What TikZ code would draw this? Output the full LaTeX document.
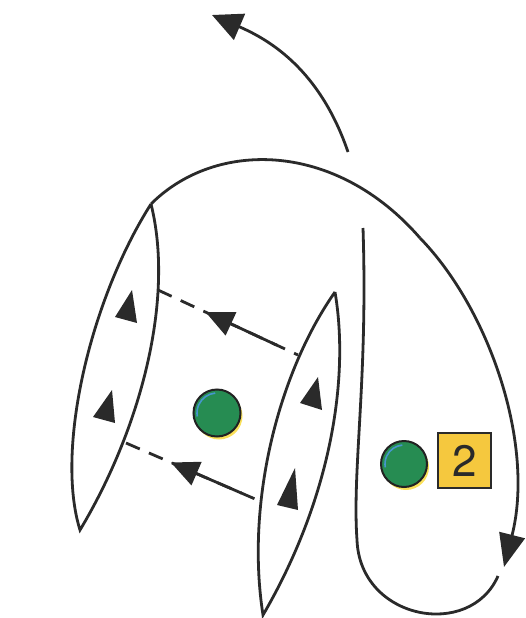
\documentclass[tikz,border=0pt]{standalone}
\usepackage{fontspec}
\newfontfamily\tagfont{TeX Gyre Heros}
\usetikzlibrary{arrows.meta, positioning, calc, shadows}
\definecolor{ink}{RGB}{42,42,42}
\definecolor{iongreen}{RGB}{38,140,82}
\definecolor{tagyellow}{RGB}{245,200,62}
\definecolor{glowyellow}{RGB}{250,224,90}
\definecolor{sheenblue}{RGB}{70,150,205}

\begin{document}
\begin{tikzpicture}[x=1pt,y=-1pt,>=Stealth,
    curve/.style={draw=ink,line width=2.8pt},
    flow/.style={curve,-{Triangle[length=30pt,width=28pt]}},
    pull/.style={curve,-{Triangle[length=28pt,width=25pt]}},
    dashline/.style={curve,dash pattern=on 15pt off 10pt},
    marker/.style={fill=ink},
    ion/.style={circle,draw=ink!80!black,line width=2pt,fill=iongreen,
      drop shadow={shadow xshift=2pt,shadow yshift=-3pt,fill=glowyellow,opacity=1}},
    sheen/.style={draw=sheenblue,line width=1.6pt},
    tagbox/.style={draw=ink,line width=2pt,fill=tagyellow,minimum width=53pt,
      minimum height=55pt,inner sep=0pt,font=\tagfont\fontsize{44}{44}\selectfont,text=ink}]
  \useasboundingbox (0,0) rectangle (526,618);

  % lens tips and attachment points
  \coordinate (ltop) at (151,204);
  \coordinate (lbot) at (80,530);
  \coordinate (rtop) at (335,292);
  \coordinate (rbot) at (263,615);
  \coordinate (la) at (158,290);
  \coordinate (lb) at (126,443);
  \coordinate (ra) at (298,355);
  \coordinate (rb) at (262,502);

  % the two lenses
  \draw[curve] (ltop) .. controls (90,300) and (55,450) .. (lbot)
    .. controls (140,430) and (175,300) .. (ltop);
  \draw[curve] (rtop) .. controls (280,370) and (245,500) .. (rbot)
    .. controls (330,500) and (350,380) .. (rtop);

  % marks on the lenses
  \fill[marker] (132,290) -- (115,317) -- (137,323) -- cycle;
  \fill[marker] (112,390) -- (93,417) -- (115,423) -- cycle;
  \fill[marker] (318,377) -- (300,403) -- (322,410) -- cycle;
  \fill[marker] (295,468) -- (277,505) -- (298,510) -- cycle;

  % big sweep and the loop
  \coordinate (sweep) at (420,238);
  \coordinate (drop) at (504,567);
  \draw[curve] (ltop) .. controls (215,140) and (335,140) .. (sweep);
  \draw[curve,-{Triangle[length=33pt,width=26pt]}] (sweep) .. controls (490,310) and (535,445) .. (drop);
  \coordinate (looptop) at (363,228);
  \coordinate (loopend) at (498,576);
  \draw[curve] (looptop) .. controls (368,380) and (352,470) .. (357,540)
    .. controls (360,620) and (470,640) .. (loopend);

  % escape arrow
  \coordinate (tail) at (348,152);
  \coordinate (head) at (212,15);
  \draw[flow] (tail) .. controls (320,70) and (270,40) .. (head);

  % dashed links
  \draw[dashline] (la) -- (ra);
  \draw[pull] ($(ra)!0.15!(la)$) -- ($(ra)!0.66!(la)$);
  \draw[dashline] (lb) -- (rb);
  \draw[pull] ($(rb)!0.15!(lb)$) -- ($(rb)!0.67!(lb)$);

  % charges
  \node[ion,minimum size=47pt] (ionA) at (217,413) {};
  \node[ion,minimum size=46pt] (ionB) at (404,464) {};
  \draw[sheen] (ionA.center) ++(95:20pt) arc[start angle=95,end angle=190,radius=20pt];
  \draw[sheen] (ionB.center) ++(95:19pt) arc[start angle=95,end angle=190,radius=19pt];
  \node[tagbox,right=9pt of ionB,yshift=3.5pt] (tag) {2};
\end{tikzpicture}
\end{document}
